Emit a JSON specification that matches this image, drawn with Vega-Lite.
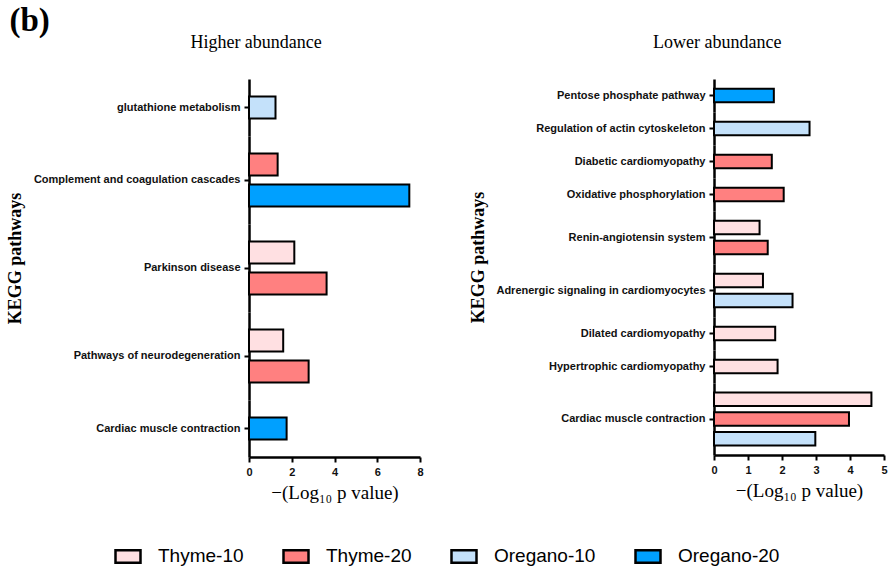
{
  "$schema": "https://vega.github.io/schema/vega-lite/v6.json",
  "background": "white",
  "padding": {"left": 7, "top": 5, "right": 5, "bottom": 5},
  "title": {"text": "(b)", "anchor": "start", "font": "Liberation Serif", "fontSize": 33, "fontWeight": "bold", "color": "black", "offset": -4, "dx": 2},
  "data": {
    "values": [
      {"panel": "Higher", "pathway": "glutathione metabolism", "series": "Oregano-10", "value": 1.24},
      {"panel": "Higher", "pathway": "Complement and coagulation cascades", "series": "Thyme-20", "value": 1.34},
      {"panel": "Higher", "pathway": "Complement and coagulation cascades", "series": "Oregano-20", "value": 7.5},
      {"panel": "Higher", "pathway": "Parkinson disease", "series": "Thyme-10", "value": 2.12},
      {"panel": "Higher", "pathway": "Parkinson disease", "series": "Thyme-20", "value": 3.63},
      {"panel": "Higher", "pathway": "Pathways of neurodegeneration", "series": "Thyme-10", "value": 1.6},
      {"panel": "Higher", "pathway": "Pathways of neurodegeneration", "series": "Thyme-20", "value": 2.79},
      {"panel": "Higher", "pathway": "Cardiac muscle contraction", "series": "Oregano-20", "value": 1.76},
      {"panel": "Lower", "pathway": "Pentose phosphate pathway", "series": "Oregano-20", "value": 1.76},
      {"panel": "Lower", "pathway": "Regulation of actin cytoskeleton", "series": "Oregano-10", "value": 2.81},
      {"panel": "Lower", "pathway": "Diabetic cardiomyopathy", "series": "Thyme-20", "value": 1.7},
      {"panel": "Lower", "pathway": "Oxidative phosphorylation", "series": "Thyme-20", "value": 2.05},
      {"panel": "Lower", "pathway": "Renin-angiotensin system", "series": "Thyme-10", "value": 1.34},
      {"panel": "Lower", "pathway": "Renin-angiotensin system", "series": "Thyme-20", "value": 1.58},
      {"panel": "Lower", "pathway": "Adrenergic signaling in cardiomyocytes", "series": "Thyme-10", "value": 1.44},
      {"panel": "Lower", "pathway": "Adrenergic signaling in cardiomyocytes", "series": "Oregano-10", "value": 2.31},
      {"panel": "Lower", "pathway": "Dilated cardiomyopathy", "series": "Thyme-10", "value": 1.8},
      {"panel": "Lower", "pathway": "Hypertrophic cardiomyopathy", "series": "Thyme-10", "value": 1.87},
      {"panel": "Lower", "pathway": "Cardiac muscle contraction", "series": "Thyme-10", "value": 4.63},
      {"panel": "Lower", "pathway": "Cardiac muscle contraction", "series": "Thyme-20", "value": 3.97},
      {"panel": "Lower", "pathway": "Cardiac muscle contraction", "series": "Oregano-10", "value": 2.98}
    ]
  },
  "resolve": {"scale": {"x": "independent", "y": "independent", "yOffset": "independent"}},
  "spacing": 45,
  "hconcat": [
    {
      "transform": [{"filter": "datum.panel === 'Higher'"}],
      "title": {"text": "Higher abundance", "anchor": "start", "dx": 183, "offset": 27},
      "vconcat": [
        {
          "title": {"text": "KEGG pathways", "orient": "left", "anchor": "middle", "dx": 32, "font": "Liberation Serif", "fontSize": 18, "fontWeight": "bold", "offset": 8},
          "bounds": "flush",
          "spacing": 0,
          "resolve": {"scale": {"y": "independent", "yOffset": "independent"}},
          "vconcat": [
            {
              "transform": [{"filter": "datum.pathway === 'glutathione metabolism'"}],
              "width": 171, "height": 57,
              "mark": {"type": "bar", "stroke": "black", "strokeWidth": 2},
              "encoding": {
                "y": {"field": "pathway", "type": "nominal", "scale": {"paddingInner": 0, "paddingOuter": 0}, "axis": {"title": null}},
                "yOffset": {"field": "series", "type": "nominal", "sort": ["Thyme-10", "Thyme-20", "Oregano-10", "Oregano-20"], "scale": {"paddingInner": 0.29, "paddingOuter": 0.564}},
                "x": {"field": "value", "type": "quantitative", "scale": {"domain": [0, 8], "nice": false}, "axis": null},
                "fill": {"field": "series", "type": "nominal", "scale": {"domain": ["Thyme-10", "Thyme-20", "Oregano-10", "Oregano-20"], "range": ["#FFE0E2", "#FF8080", "#C4E1FA", "#00A0FF"]}, "legend": {"title": null}}
              }
            },
            {
              "transform": [{"filter": "datum.pathway === 'Complement and coagulation cascades'"}],
              "width": 171, "height": 88,
              "mark": {"type": "bar", "stroke": "black", "strokeWidth": 2},
              "encoding": {
                "y": {"field": "pathway", "type": "nominal", "scale": {"paddingInner": 0, "paddingOuter": 0}, "axis": {"title": null}},
                "yOffset": {"field": "series", "type": "nominal", "sort": ["Thyme-10", "Thyme-20", "Oregano-10", "Oregano-20"], "scale": {"paddingInner": 0.29, "paddingOuter": 0.564}},
                "x": {"field": "value", "type": "quantitative", "scale": {"domain": [0, 8], "nice": false}, "axis": null},
                "fill": {"field": "series", "type": "nominal", "scale": {"domain": ["Thyme-10", "Thyme-20", "Oregano-10", "Oregano-20"], "range": ["#FFE0E2", "#FF8080", "#C4E1FA", "#00A0FF"]}, "legend": {"title": null}}
              }
            },
            {
              "transform": [{"filter": "datum.pathway === 'Parkinson disease'"}],
              "width": 171, "height": 88,
              "mark": {"type": "bar", "stroke": "black", "strokeWidth": 2},
              "encoding": {
                "y": {"field": "pathway", "type": "nominal", "scale": {"paddingInner": 0, "paddingOuter": 0}, "axis": {"title": null}},
                "yOffset": {"field": "series", "type": "nominal", "sort": ["Thyme-10", "Thyme-20", "Oregano-10", "Oregano-20"], "scale": {"paddingInner": 0.29, "paddingOuter": 0.564}},
                "x": {"field": "value", "type": "quantitative", "scale": {"domain": [0, 8], "nice": false}, "axis": null},
                "fill": {"field": "series", "type": "nominal", "scale": {"domain": ["Thyme-10", "Thyme-20", "Oregano-10", "Oregano-20"], "range": ["#FFE0E2", "#FF8080", "#C4E1FA", "#00A0FF"]}, "legend": {"title": null}}
              }
            },
            {
              "transform": [{"filter": "datum.pathway === 'Pathways of neurodegeneration'"}],
              "width": 171, "height": 88,
              "mark": {"type": "bar", "stroke": "black", "strokeWidth": 2},
              "encoding": {
                "y": {"field": "pathway", "type": "nominal", "scale": {"paddingInner": 0, "paddingOuter": 0}, "axis": {"title": null}},
                "yOffset": {"field": "series", "type": "nominal", "sort": ["Thyme-10", "Thyme-20", "Oregano-10", "Oregano-20"], "scale": {"paddingInner": 0.29, "paddingOuter": 0.564}},
                "x": {"field": "value", "type": "quantitative", "scale": {"domain": [0, 8], "nice": false}, "axis": null},
                "fill": {"field": "series", "type": "nominal", "scale": {"domain": ["Thyme-10", "Thyme-20", "Oregano-10", "Oregano-20"], "range": ["#FFE0E2", "#FF8080", "#C4E1FA", "#00A0FF"]}, "legend": {"title": null}}
              }
            },
            {
              "transform": [{"filter": "datum.pathway === 'Cardiac muscle contraction'"}],
              "width": 171, "height": 57,
              "mark": {"type": "bar", "stroke": "black", "strokeWidth": 2},
              "encoding": {
                "y": {"field": "pathway", "type": "nominal", "scale": {"paddingInner": 0, "paddingOuter": 0}, "axis": {"title": null}},
                "yOffset": {"field": "series", "type": "nominal", "sort": ["Thyme-10", "Thyme-20", "Oregano-10", "Oregano-20"], "scale": {"paddingInner": 0.29, "paddingOuter": 0.564}},
                "x": {"field": "value", "type": "quantitative", "scale": {"domain": [0, 8], "nice": false}, "axis": {"values": [0, 2, 4, 6, 8], "title": "−(Log₁₀ p value)"}},
                "fill": {"field": "series", "type": "nominal", "scale": {"domain": ["Thyme-10", "Thyme-20", "Oregano-10", "Oregano-20"], "range": ["#FFE0E2", "#FF8080", "#C4E1FA", "#00A0FF"]}, "legend": {"title": null}}
              }
            }
          ]
        }
      ]
    },
    {
      "transform": [{"filter": "datum.panel === 'Lower'"}],
      "title": {"text": "Lower abundance", "anchor": "start", "dx": 183, "offset": 27},
      "vconcat": [
        {
          "title": {"text": "KEGG pathways", "orient": "left", "anchor": "middle", "dx": 32, "font": "Liberation Serif", "fontSize": 18, "fontWeight": "bold", "offset": 8},
          "bounds": "flush",
          "spacing": 0,
          "resolve": {"scale": {"y": "independent", "yOffset": "independent"}},
          "vconcat": [
            {
              "transform": [{"filter": "datum.pathway === 'Pentose phosphate pathway'"}],
              "width": 170, "height": 33,
              "mark": {"type": "bar", "stroke": "black", "strokeWidth": 2},
              "encoding": {
                "y": {"field": "pathway", "type": "nominal", "scale": {"paddingInner": 0, "paddingOuter": 0}, "axis": {"title": null}},
                "yOffset": {"field": "series", "type": "nominal", "sort": ["Thyme-10", "Thyme-20", "Oregano-10", "Oregano-20"], "scale": {"paddingInner": 0.32, "paddingOuter": 0.485}},
                "x": {"field": "value", "type": "quantitative", "scale": {"domain": [0, 5], "nice": false}, "axis": null},
                "fill": {"field": "series", "type": "nominal", "scale": {"domain": ["Thyme-10", "Thyme-20", "Oregano-10", "Oregano-20"], "range": ["#FFE0E2", "#FF8080", "#C4E1FA", "#00A0FF"]}, "legend": {"title": null}}
              }
            },
            {
              "transform": [{"filter": "datum.pathway === 'Regulation of actin cytoskeleton'"}],
              "width": 170, "height": 33,
              "mark": {"type": "bar", "stroke": "black", "strokeWidth": 2},
              "encoding": {
                "y": {"field": "pathway", "type": "nominal", "scale": {"paddingInner": 0, "paddingOuter": 0}, "axis": {"title": null}},
                "yOffset": {"field": "series", "type": "nominal", "sort": ["Thyme-10", "Thyme-20", "Oregano-10", "Oregano-20"], "scale": {"paddingInner": 0.32, "paddingOuter": 0.485}},
                "x": {"field": "value", "type": "quantitative", "scale": {"domain": [0, 5], "nice": false}, "axis": null},
                "fill": {"field": "series", "type": "nominal", "scale": {"domain": ["Thyme-10", "Thyme-20", "Oregano-10", "Oregano-20"], "range": ["#FFE0E2", "#FF8080", "#C4E1FA", "#00A0FF"]}, "legend": {"title": null}}
              }
            },
            {
              "transform": [{"filter": "datum.pathway === 'Diabetic cardiomyopathy'"}],
              "width": 170, "height": 33,
              "mark": {"type": "bar", "stroke": "black", "strokeWidth": 2},
              "encoding": {
                "y": {"field": "pathway", "type": "nominal", "scale": {"paddingInner": 0, "paddingOuter": 0}, "axis": {"title": null}},
                "yOffset": {"field": "series", "type": "nominal", "sort": ["Thyme-10", "Thyme-20", "Oregano-10", "Oregano-20"], "scale": {"paddingInner": 0.32, "paddingOuter": 0.485}},
                "x": {"field": "value", "type": "quantitative", "scale": {"domain": [0, 5], "nice": false}, "axis": null},
                "fill": {"field": "series", "type": "nominal", "scale": {"domain": ["Thyme-10", "Thyme-20", "Oregano-10", "Oregano-20"], "range": ["#FFE0E2", "#FF8080", "#C4E1FA", "#00A0FF"]}, "legend": {"title": null}}
              }
            },
            {
              "transform": [{"filter": "datum.pathway === 'Oxidative phosphorylation'"}],
              "width": 170, "height": 33,
              "mark": {"type": "bar", "stroke": "black", "strokeWidth": 2},
              "encoding": {
                "y": {"field": "pathway", "type": "nominal", "scale": {"paddingInner": 0, "paddingOuter": 0}, "axis": {"title": null}},
                "yOffset": {"field": "series", "type": "nominal", "sort": ["Thyme-10", "Thyme-20", "Oregano-10", "Oregano-20"], "scale": {"paddingInner": 0.32, "paddingOuter": 0.485}},
                "x": {"field": "value", "type": "quantitative", "scale": {"domain": [0, 5], "nice": false}, "axis": null},
                "fill": {"field": "series", "type": "nominal", "scale": {"domain": ["Thyme-10", "Thyme-20", "Oregano-10", "Oregano-20"], "range": ["#FFE0E2", "#FF8080", "#C4E1FA", "#00A0FF"]}, "legend": {"title": null}}
              }
            },
            {
              "transform": [{"filter": "datum.pathway === 'Renin-angiotensin system'"}],
              "width": 170, "height": 53,
              "mark": {"type": "bar", "stroke": "black", "strokeWidth": 2},
              "encoding": {
                "y": {"field": "pathway", "type": "nominal", "scale": {"paddingInner": 0, "paddingOuter": 0}, "axis": {"title": null}},
                "yOffset": {"field": "series", "type": "nominal", "sort": ["Thyme-10", "Thyme-20", "Oregano-10", "Oregano-20"], "scale": {"paddingInner": 0.32, "paddingOuter": 0.485}},
                "x": {"field": "value", "type": "quantitative", "scale": {"domain": [0, 5], "nice": false}, "axis": null},
                "fill": {"field": "series", "type": "nominal", "scale": {"domain": ["Thyme-10", "Thyme-20", "Oregano-10", "Oregano-20"], "range": ["#FFE0E2", "#FF8080", "#C4E1FA", "#00A0FF"]}, "legend": {"title": null}}
              }
            },
            {
              "transform": [{"filter": "datum.pathway === 'Adrenergic signaling in cardiomyocytes'"}],
              "width": 170, "height": 53,
              "mark": {"type": "bar", "stroke": "black", "strokeWidth": 2},
              "encoding": {
                "y": {"field": "pathway", "type": "nominal", "scale": {"paddingInner": 0, "paddingOuter": 0}, "axis": {"title": null}},
                "yOffset": {"field": "series", "type": "nominal", "sort": ["Thyme-10", "Thyme-20", "Oregano-10", "Oregano-20"], "scale": {"paddingInner": 0.32, "paddingOuter": 0.485}},
                "x": {"field": "value", "type": "quantitative", "scale": {"domain": [0, 5], "nice": false}, "axis": null},
                "fill": {"field": "series", "type": "nominal", "scale": {"domain": ["Thyme-10", "Thyme-20", "Oregano-10", "Oregano-20"], "range": ["#FFE0E2", "#FF8080", "#C4E1FA", "#00A0FF"]}, "legend": {"title": null}}
              }
            },
            {
              "transform": [{"filter": "datum.pathway === 'Dilated cardiomyopathy'"}],
              "width": 170, "height": 33,
              "mark": {"type": "bar", "stroke": "black", "strokeWidth": 2},
              "encoding": {
                "y": {"field": "pathway", "type": "nominal", "scale": {"paddingInner": 0, "paddingOuter": 0}, "axis": {"title": null}},
                "yOffset": {"field": "series", "type": "nominal", "sort": ["Thyme-10", "Thyme-20", "Oregano-10", "Oregano-20"], "scale": {"paddingInner": 0.32, "paddingOuter": 0.485}},
                "x": {"field": "value", "type": "quantitative", "scale": {"domain": [0, 5], "nice": false}, "axis": null},
                "fill": {"field": "series", "type": "nominal", "scale": {"domain": ["Thyme-10", "Thyme-20", "Oregano-10", "Oregano-20"], "range": ["#FFE0E2", "#FF8080", "#C4E1FA", "#00A0FF"]}, "legend": {"title": null}}
              }
            },
            {
              "transform": [{"filter": "datum.pathway === 'Hypertrophic cardiomyopathy'"}],
              "width": 170, "height": 33,
              "mark": {"type": "bar", "stroke": "black", "strokeWidth": 2},
              "encoding": {
                "y": {"field": "pathway", "type": "nominal", "scale": {"paddingInner": 0, "paddingOuter": 0}, "axis": {"title": null}},
                "yOffset": {"field": "series", "type": "nominal", "sort": ["Thyme-10", "Thyme-20", "Oregano-10", "Oregano-20"], "scale": {"paddingInner": 0.32, "paddingOuter": 0.485}},
                "x": {"field": "value", "type": "quantitative", "scale": {"domain": [0, 5], "nice": false}, "axis": null},
                "fill": {"field": "series", "type": "nominal", "scale": {"domain": ["Thyme-10", "Thyme-20", "Oregano-10", "Oregano-20"], "range": ["#FFE0E2", "#FF8080", "#C4E1FA", "#00A0FF"]}, "legend": {"title": null}}
              }
            },
            {
              "transform": [{"filter": "datum.pathway === 'Cardiac muscle contraction'"}],
              "width": 170, "height": 72,
              "mark": {"type": "bar", "stroke": "black", "strokeWidth": 2},
              "encoding": {
                "y": {"field": "pathway", "type": "nominal", "scale": {"paddingInner": 0, "paddingOuter": 0}, "axis": {"title": null}},
                "yOffset": {"field": "series", "type": "nominal", "sort": ["Thyme-10", "Thyme-20", "Oregano-10", "Oregano-20"], "scale": {"paddingInner": 0.32, "paddingOuter": 0.485}},
                "x": {"field": "value", "type": "quantitative", "scale": {"domain": [0, 5], "nice": false}, "axis": {"values": [0, 1, 2, 3, 4, 5], "title": "−(Log₁₀ p value)"}},
                "fill": {"field": "series", "type": "nominal", "scale": {"domain": ["Thyme-10", "Thyme-20", "Oregano-10", "Oregano-20"], "range": ["#FFE0E2", "#FF8080", "#C4E1FA", "#00A0FF"]}, "legend": {"title": null}}
              }
            }
          ]
        }
      ]
    }
  ],
  "config": {
    "view": {"stroke": null},
    "axis": {
      "grid": false,
      "domainColor": "black", "domainWidth": 2.5,
      "tickColor": "black", "tickWidth": 2, "tickSize": 5,
      "labelFont": "Liberation Sans", "labelFontWeight": "bold", "labelFontSize": 11, "labelColor": "#111111", "labelPadding": 4, "labelLimit": 400, "labelFlush": false,
      "titleFont": "Liberation Serif", "titleFontSize": 19, "titleFontWeight": "normal", "titleColor": "black", "titlePadding": 6
    },
    "title": {"font": "Liberation Serif", "fontSize": 18, "fontWeight": "normal", "color": "black"},
    "legend": {
      "orient": "bottom",
      "direction": "horizontal",
      "layout": {"bottom": {"anchor": "middle"}},
      "offset": 40,
      "symbolType": "M-1,-0.5H1V0.5H-1Z",
      "symbolSize": 625,
      "symbolStrokeColor": "black",
      "symbolStrokeWidth": 2.5,
      "labelFont": "Liberation Sans",
      "labelFontSize": 19,
      "labelColor": "black",
      "labelOffset": 16,
      "columnPadding": 34
    }
  }
}
